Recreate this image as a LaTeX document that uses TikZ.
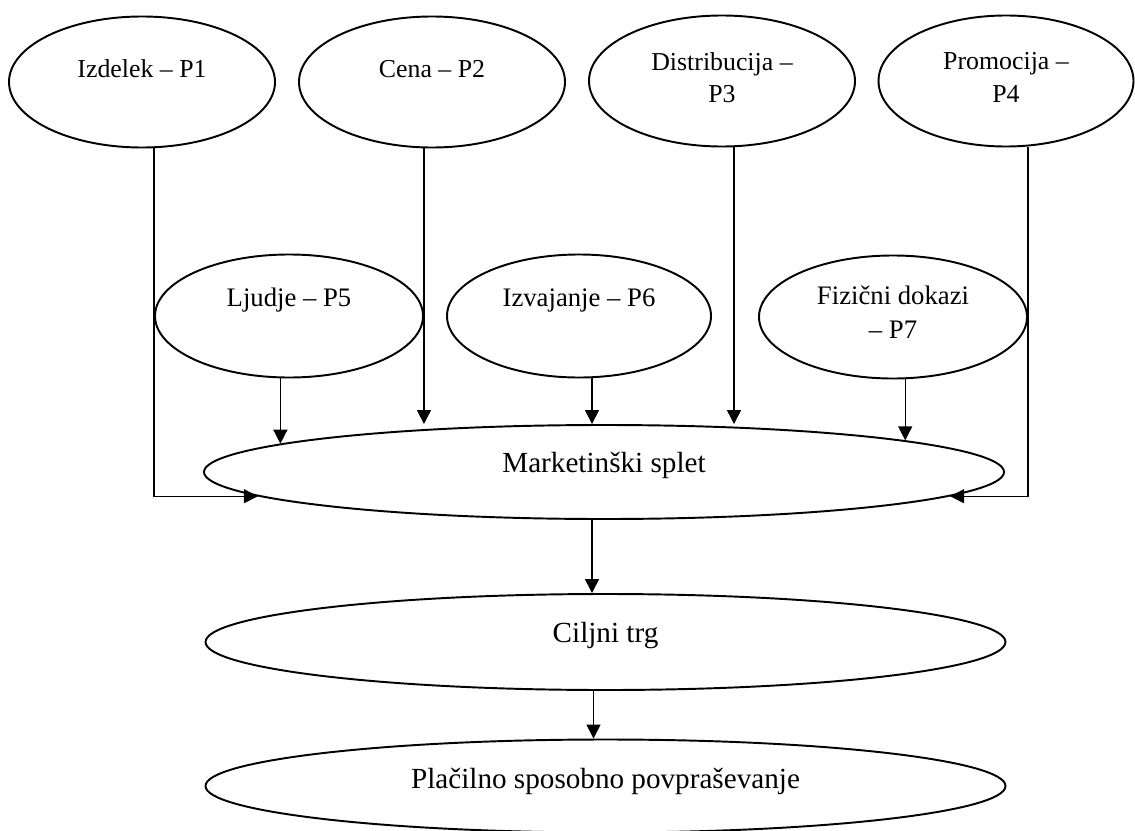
\documentclass[tikz,border=0pt]{standalone}
\usepackage{fontspec}
\setmainfont{Liberation Serif}
\usepackage{tikz}
\usetikzlibrary{shapes.geometric,arrows.meta,positioning,calc}

\begin{document}
\begin{tikzpicture}[
    oval/.style={draw,ellipse,line width=1.1pt,inner sep=0pt,align=center},
    top/.style={oval,minimum width=5.32cm,minimum height=2.62cm,font=\fontsize{14.7}{18.5}\selectfont},
    mid/.style={oval,minimum width=5.36cm,minimum height=2.46cm,font=\fontsize{15.2}{19.3}\selectfont},
    low/.style={oval,minimum width=16cm,minimum height=1.88cm,font=\fontsize{16.6}{20}\selectfont},
    link/.style={line width=0.8pt,-{Triangle[length=0.28cm,width=0.28cm]}}]
  \useasboundingbox (0,0) rectangle (22.7,-16.6);
  \node[top,text depth=15pt] (p1) at (2.84,-1.64) {Izdelek – P1};
  \node[top,text depth=15pt] (p2) at (8.64,-1.64) {Cena – P2};
  \node[top,text depth=4pt] (p3) at (14.44,-1.62) {Distribucija –\\P3};
  \node[top,text depth=4pt,minimum width=5.1cm] (p4) at (20.12,-1.62) {Promocija –\\P4};
  \node[mid,text depth=21pt] (p5) at (5.78,-6.32) {Ljudje – P5};
  \node[mid,text depth=21pt,minimum width=5.28cm] (p6) at (11.58,-6.32) {Izvajanje – P6};
  \node[mid,text depth=5pt] (p7) at (17.86,-6.34) {Fizični dokazi\\– P7};
  \node[low,text depth=10.6pt] (mk) at (12.08,-9.44) {Marketinški splet};
  \node[low,text depth=10.6pt,minimum height=1.92cm] (ct) at (12.11,-12.84) {Ciljni trg};
  \node[low,text depth=8.4pt,minimum height=1.86cm] (pl) at (12.11,-15.72) {Plačilno sposobno povpraševanje};
  \draw[link] (p1.south -| p5.west) |- (mk.184);
  \draw[link] (p4.south -| p7.east) |- (mk.-4);
  \draw[link] (p2.south -| p5.east) -- (p5.east |- mk.north);
  \draw[link] ([xshift=0.24cm]p3.south) -- ([xshift=0.24cm]p3.south |- mk.north);
  \draw[link] (p5.south -| mk.175) -- (mk.175);
  \draw[link] ([xshift=-0.24cm]mk.north |- p6.south) -- ([xshift=-0.24cm]mk.north);
  \draw[link] (p7.south -| mk.6) -- (mk.6);
  \draw[link] ([xshift=-0.24cm]mk.south) -- ([xshift=-0.24cm]mk.south |- ct.north);
  \draw[link] ([xshift=-0.24cm]ct.south) -- ([xshift=-0.24cm]ct.south |- pl.north);
\end{tikzpicture}
\end{document}
